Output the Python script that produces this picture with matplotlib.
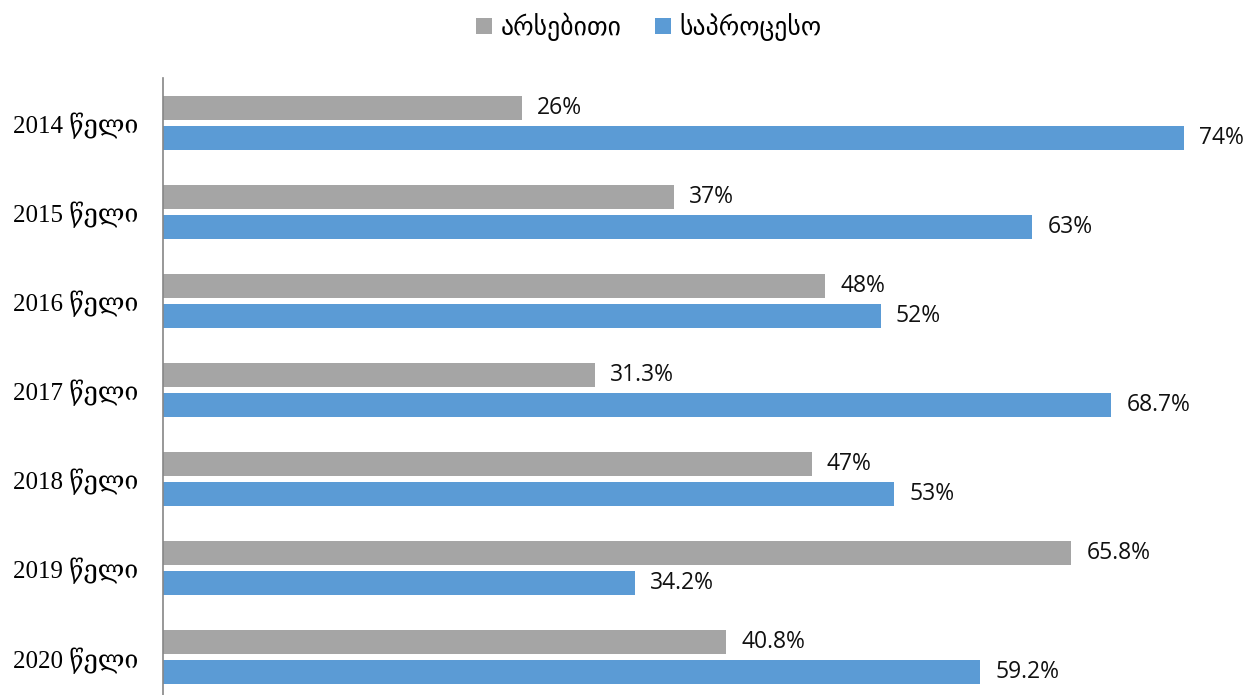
import matplotlib.pyplot as plt
import numpy as np

years = ['2014 წელი', '2015 წელი', '2016 წელი', '2017 წელი',
         '2018 წელი', '2019 წელი', '2020 წელი']
substantive = [26, 37, 48, 31.3, 47, 65.8, 40.8]
procedural = [74, 63, 52, 68.7, 53, 34.2, 59.2]
substantive_labels = ['26%', '37%', '48%', '31.3%', '47%', '65.8%', '40.8%']
procedural_labels = ['74%', '63%', '52%', '68.7%', '53%', '34.2%', '59.2%']
series_names = ['არსებითი', 'საპროცესო']

gray = '#A5A5A5'
blue = '#5B9BD5'

W, H = 1250, 695
fig = plt.figure(figsize=(W / 100, H / 100), dpi=100)

# axes placed in pixel coords (bottom runs slightly past the figure edge)
left, right, top, bottom = 163, 1250, 78, 702
ax = fig.add_axes([left / W, (H - bottom) / H, (right - left) / W, (bottom - top) / H])

px_per_unit = 13.8
ax.set_xlim(0, (right - left) / px_per_unit)
ax.set_ylim(len(years) - 0.5, -0.5)

cat_px = (bottom - top) / len(years)
bar_h = 24 / cat_px
off = 15 / cat_px

y = np.arange(len(years))
b1 = ax.barh(y - off, substantive, height=bar_h, color=gray, label=series_names[0])
b2 = ax.barh(y + off, procedural, height=bar_h, color=blue, label=series_names[1])

for bars, labels in ((b1, substantive_labels), (b2, procedural_labels)):
    for bar, lab in zip(bars, labels):
        ax.annotate(lab, (bar.get_width(), bar.get_y() + bar.get_height() / 2),
                    xytext=(11, 0), textcoords='offset points',
                    ha='left', va='center', fontsize=16.5,
                    family=['Open Sans', 'DejaVu Sans'], color='#111111')

ax.set_yticks(y)
ax.set_yticklabels(years, family=['Liberation Serif', 'DejaVu Serif'], fontsize=18)
ax.tick_params(axis='y', length=0, pad=18)
ax.set_xticks([])

for s in ('top', 'right', 'bottom'):
    ax.spines[s].set_visible(False)
ax.spines['left'].set_color('#868686')
ax.spines['left'].set_linewidth(1.2)

fig.legend(handles=[b1, b2], loc='center', bbox_to_anchor=(649 / W, 1 - 27 / H),
           ncol=2, frameon=False, handlelength=0.6, handleheight=0.6,
           handletextpad=0.35, columnspacing=1.3,
           prop={'family': ['DejaVu Sans'], 'size': 18.5})

fig.savefig('out.png', dpi=100)
